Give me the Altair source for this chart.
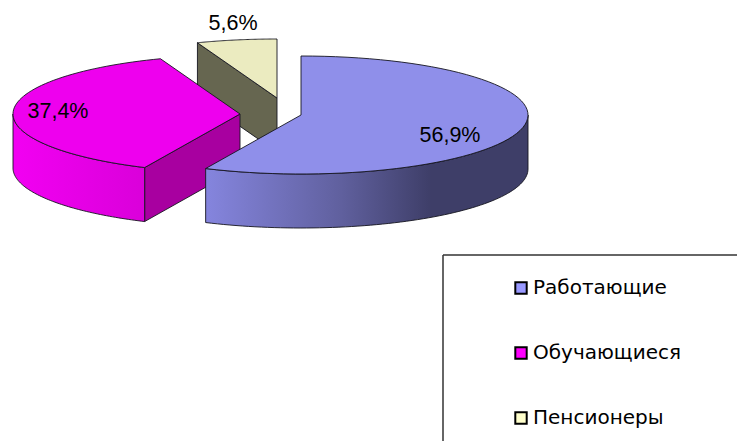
import math
import altair as alt
import pandas as pd

# --- data ---
categories = ["Работающие", "Обучающиеся", "Пенсионеры"]
shares = [56.9, 37.4, 5.6]
value_labels = ["56,9%", "37,4%", "5,6%"]
legend_colors = ["#9999FF", "#FF00FF", "#FFFFCC"]
top_colors = ["#8F8FEA", "#EE00EE", "#EBEBC0"]
cut_colors = [None, "#A800A0", "#666650"]

# --- pie geometry (image pixels) ---
apex_x = [301, 240, 277]
apex_y = [115, 114, 98]
RX, RY, DEPTH = 227, 59, 54
label_x = [450, 58, 233]
label_y = [136, 112, 24]

W, H = 737, 441
total = sum(shares) + 0.1
starts, a = [], 0.0
for s in shares:
    starts.append(a)
    a += s / total * 360.0
ends = [starts[i] + shares[i] / total * 360.0 for i in range(3)]
ends[2] = 360.0


def rim(cx, cy, a0, a1, dy=0, n=70):
    out = []
    for k in range(n + 1):
        t = math.radians(a0 + (a1 - a0) * k / n)
        out.append((cx + RX * math.sin(t), cy - RY * math.cos(t) + dy))
    return out


def top_face(i):
    pts = [(apex_x[i], apex_y[i])] + rim(apex_x[i], apex_y[i], starts[i], ends[i])
    return pts + [pts[0]]


def outer_wall(i, a0, a1):
    up = rim(apex_x[i], apex_y[i], a0, a1)
    down = rim(apex_x[i], apex_y[i], a0, a1, DEPTH)[::-1]
    pts = up + down
    return pts + [pts[0]]


def cut_wall(i, angle):
    t = math.radians(angle)
    cx, cy = apex_x[i], apex_y[i]
    ex, ey = cx + RX * math.sin(t), cy - RY * math.cos(t)
    pts = [(cx, cy), (ex, ey), (ex, ey + DEPTH), (cx, cy + DEPTH), (cx, cy)]
    return pts


x_scale = alt.Scale(domain=[8, W], range=[0, W - 8], nice=False, zero=False)
y_scale = alt.Scale(domain=[8, H], range=[0, H - 8], nice=False, zero=False)
X = alt.X("x:Q", scale=x_scale, axis=None)
Y = alt.Y("y:Q", scale=y_scale, axis=None)


def poly(pts, fill):
    df = pd.DataFrame([{"x": p[0], "y": p[1], "i": k} for k, p in enumerate(pts)])
    return (
        alt.Chart(df)
        .mark_line(fill=fill, stroke="#15151f", strokeWidth=0.9, interpolate="linear", clip=True)
        .encode(x=X, y=Y, order=alt.Order("i:Q"))
    )


def grad(stops):
    return alt.Gradient(
        gradient="linear", x1=0, x2=1, y1=0, y2=0,
        stops=[alt.GradientStop(offset=o, color=c) for o, c in stops],
    )


layers = [
    # pensioners (furthest back)
    poly(cut_wall(2, starts[2]), cut_colors[2]),
    poly(top_face(2), top_colors[2]),
    # students
    poly(cut_wall(1, starts[1]), cut_colors[1]),
    poly(outer_wall(1, starts[1], 270), grad([(0, "#F200F2"), (1, "#DA00DA")])),
    poly(top_face(1), top_colors[1]),
    # workers (front)
    poly(
        outer_wall(0, 90, ends[0]),
        grad([(0, "#8585DE"), (0.42, "#60609E"), (0.7, "#3E3E68"), (1, "#3E3E68")]),
    ),
    poly(top_face(0), top_colors[0]),
]

# value labels
labels_df = pd.DataFrame({"x": label_x, "y": label_y, "t": value_labels})
layers.append(
    alt.Chart(labels_df)
    .mark_text(font="Liberation Sans", fontSize=21.5, color="black", align="center", baseline="middle")
    .encode(x=X, y=Y, text="t:N")
)

# legend frame (runs off the edge of the picture)
frame_h = pd.DataFrame({"x": [443], "x2": [W], "y": [255]})
frame_v = pd.DataFrame({"x": [443], "y": [255], "y2": [H]})
layers.append(
    alt.Chart(frame_h).mark_rule(color="#333333", strokeWidth=1.5).encode(x=X, x2="x2:Q", y=Y)
)
layers.append(
    alt.Chart(frame_v).mark_rule(color="#333333", strokeWidth=1.5).encode(x=X, y=Y, y2="y2:Q")
)

# real legend, driven by a colour encoding
legend_df = pd.DataFrame({"cat": categories, "x": [100, 100, 100], "y": [100, 100, 100]})
layers.append(
    alt.Chart(legend_df)
    .mark_square(size=0, opacity=1, filled=True)
    .encode(
        x=X,
        y=Y,
        color=alt.Color(
            "cat:N",
            scale=alt.Scale(domain=categories, range=legend_colors),
            legend=alt.Legend(
                title=None,
                orient="none",
                legendX=503,
                legendY=270,
                symbolType="square",
                symbolSize=130,
                symbolStrokeColor="black",
                symbolStrokeWidth=2,
                symbolOpacity=1,
                labelFont="DejaVu Sans",
                labelFontSize=20,
                labelColor="black",
                labelOffset=2,
                labelLimit=300,
                rowPadding=45,
                padding=0,
            ),
        ),
    )
)

chart = (
    alt.layer(*layers)
    .properties(
        width=W - 8,
        height=H - 8,
        padding=0,
        autosize=alt.AutoSizeParams(type="none"),
        background="white",
    )
    .configure_view(stroke=None)
)

chart.save("out.html", embed_options={"renderer": "svg", "actions": False})
